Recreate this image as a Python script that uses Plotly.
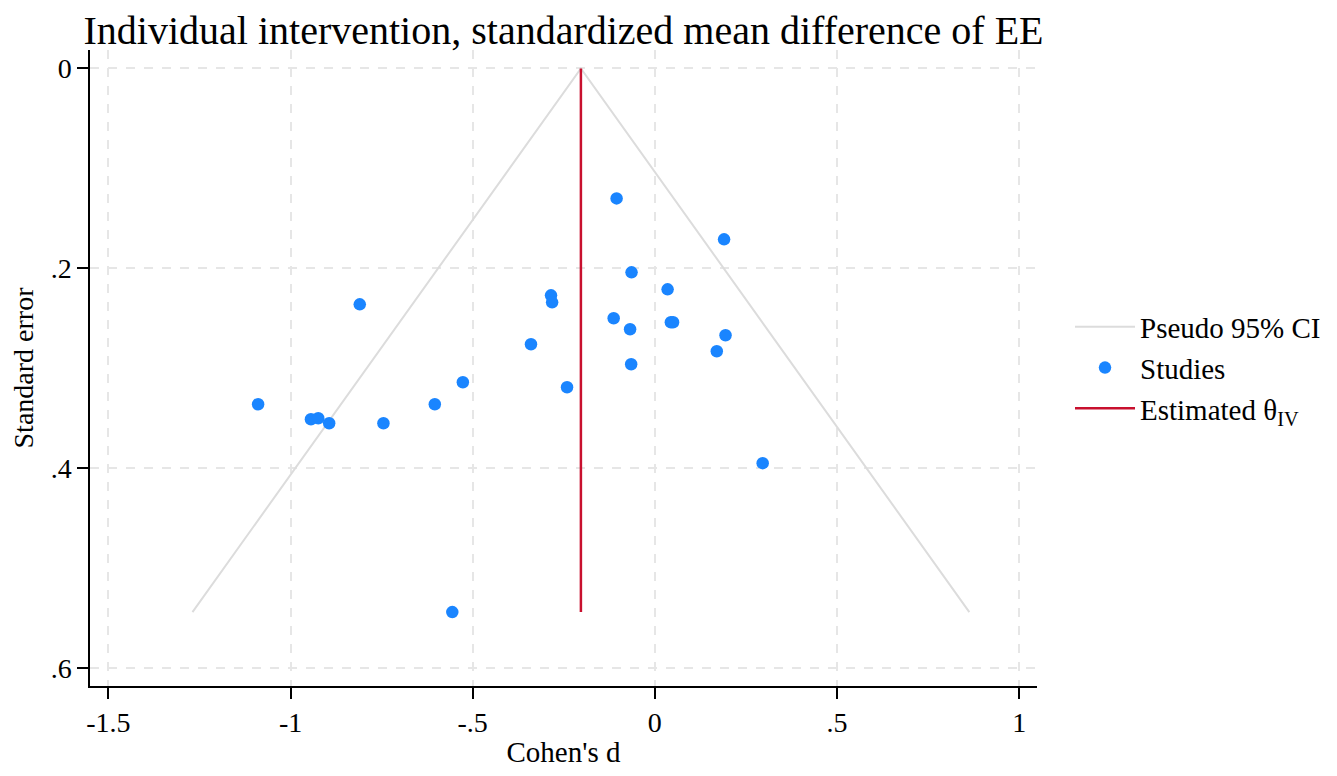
import plotly.graph_objects as go

# Data
cohen_d = [-0.105, 0.190, -0.064, 0.035, -0.285, -0.282, -0.810, -0.113, 0.044, 0.050,
           -0.068, 0.194, 0.170, -0.340, -0.065, -0.527, -0.241, -1.089, -0.604, -0.944,
           -0.924, -0.894, -0.745, 0.296, -0.556]
std_err = [0.130, 0.171, 0.204, 0.221, 0.227, 0.234, 0.236, 0.250, 0.254, 0.254,
           0.261, 0.267, 0.283, 0.276, 0.296, 0.314, 0.319, 0.336, 0.336, 0.351,
           0.350, 0.355, 0.355, 0.395, 0.544]
theta_iv = -0.203
se_max = max(std_err)
z = 1.96

x_tick_vals = [-1.5, -1, -0.5, 0, 0.5, 1]
x_tick_text = ["-1.5", "-1", "-.5", "0", ".5", "1"]
y_tick_vals = [0, 0.2, 0.4, 0.6]
y_tick_text = ["0", ".2", ".4", ".6"]

FONT = "Liberation Serif"

# page body has an 8px margin; figure sized to fit inside the window
W, H = 1321, 760
L, T = 82, 42
PW, PH = 947, 636

fig = go.Figure()
fig.add_trace(go.Scatter(
    x=[theta_iv - z * se_max, theta_iv, theta_iv + z * se_max],
    y=[se_max, 0, se_max],
    mode="lines", line=dict(color="#dcdcdc", width=2),
    name="Pseudo 95% CI"))
fig.add_trace(go.Scatter(
    x=cohen_d, y=std_err, mode="markers",
    marker=dict(color="#1a85ff", size=12.5),
    name="Studies"))
fig.add_trace(go.Scatter(
    x=[theta_iv, theta_iv], y=[0, se_max],
    mode="lines", line=dict(color="#c8102e", width=2.5),
    name="Estimated θ<sub>IV</sub>"))

grid = dict(showgrid=True, gridcolor="#e6e6e6", gridwidth=2, griddash="dash")

fig.update_layout(
    width=W, height=H,
    paper_bgcolor="white", plot_bgcolor="white",
    margin=dict(l=L, r=W - L - PW, t=T, b=H - T - PH, autoexpand=False),
    font=dict(family=FONT, size=28, color="black"),
    title=dict(text="Individual intervention, standardized mean difference of EE",
               x=(L + PW / 2) / W, xanchor="center",
               y=1 - 22 / H, yanchor="middle", yref="container",
               font=dict(family=FONT, size=40, color="black")),
    showlegend=True,
    legend=dict(x=(1062 - L) / PW, xanchor="left", y=0.5, yanchor="middle",
                font=dict(family=FONT, size=29, color="black"),
                itemwidth=60, tracegroupgap=2, bgcolor="rgba(0,0,0,0)"),
    xaxis=dict(range=[-1.5505, 1.049], tickvals=x_tick_vals, ticktext=x_tick_text,
               ticks="outside", ticklen=11, tickwidth=1.5, tickcolor="black",
               showline=True, linecolor="black", linewidth=1.5, zeroline=False,
               title=dict(text="Cohen's d", font=dict(size=29), standoff=20),
               tickfont=dict(size=28), **grid),
    yaxis=dict(range=[0.618, -0.0185], tickvals=y_tick_vals, ticktext=y_tick_text,
               ticks="outside", ticklen=11, tickwidth=1.5, tickcolor="black",
               showline=True, linecolor="black", linewidth=1.5, zeroline=False,
               title=dict(text="Standard error", font=dict(size=28), standoff=14),
               tickfont=dict(size=28), **grid),
)

fig.write_html("out.html")
